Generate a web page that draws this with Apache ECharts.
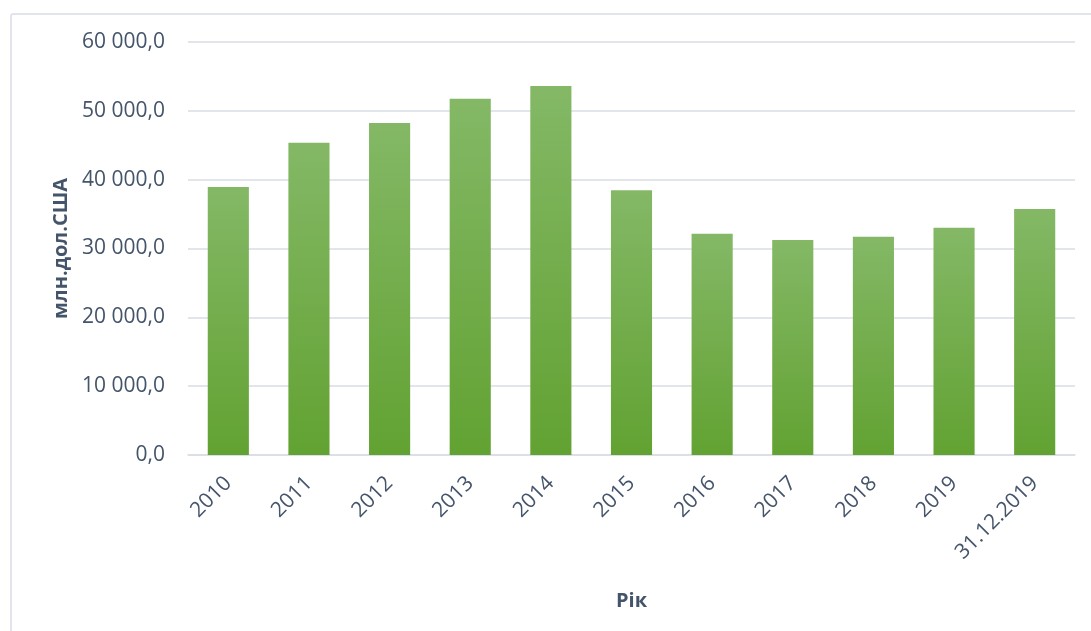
<!DOCTYPE html>
<html>
<head>
<meta charset="utf-8">
<script src="https://cdn.jsdelivr.net/npm/echarts@6/dist/echarts.min.js"></script>
<style>
html,body{margin:0;padding:0;background:#fff;}
#c{width:1091px;height:631px;}
</style>
</head>
<body>
<div id="c"></div>
<script>
const categories = ['2010','2011','2012','2013','2014','2015','2016','2017','2018','2019','31.12.2019'];
const values = [38950, 45350, 48250, 51750, 53600, 38450, 32150, 31250, 31700, 33000, 35750];
const yTicks = {min: 0, max: 60000, interval: 10000};

function fmt(v){
  const s = Math.round(v).toString().replace(/\B(?=(\d{3})+(?!\d))/g, ' ');
  return s + ',0';
}

const chart = echarts.init(document.getElementById('c'));
const textColor = '#44546A';
const font = '"Open Sans", sans-serif';
chart.setOption({
  animation: false,
  backgroundColor: '#fff',
  graphic: [{
    type: 'rect',
    shape: {x: 11, y: 14, width: 1200, height: 700, r: 2},
    style: {fill: 'none', stroke: '#D9DEE6', lineWidth: 1.5},
    silent: true
  }],
  grid: {left: 188, right: 16, top: 42, bottom: 176},
  xAxis: {
    type: 'category',
    data: categories,
    name: 'Рік',
    nameLocation: 'middle',
    nameGap: 136,
    nameTextStyle: {color: textColor, fontSize: 20, fontWeight: 'bold', fontFamily: font},
    axisLine: {lineStyle: {color: '#D9DEE6', width: 1.5}},
    axisTick: {show: false},
    axisLabel: {rotate: 45, color: textColor, fontSize: 21, fontFamily: font, margin: 25, interval: 0}
  },
  yAxis: {
    type: 'value',
    min: yTicks.min, max: yTicks.max, interval: yTicks.interval,
    name: 'млн.дол.США',
    nameLocation: 'middle',
    nameGap: 117,
    nameRotate: 90,
    nameTextStyle: {color: textColor, fontSize: 20, fontWeight: 'bold', fontFamily: font},
    axisLine: {show: false},
    axisTick: {show: false},
    splitLine: {lineStyle: {color: '#D9DEE6', width: 1.5}},
    axisLabel: {color: textColor, fontSize: 21, fontFamily: font, margin: 23, formatter: fmt}
  },
  series: [{
    type: 'bar',
    data: values,
    barCategoryGap: '49%',
    itemStyle: {
      color: new echarts.graphic.LinearGradient(0, 0, 0, 1, [
        {offset: 0, color: '#84B866'},
        {offset: 1, color: '#62A232'}
      ])
    }
  }]
});
</script>
</body>
</html>
